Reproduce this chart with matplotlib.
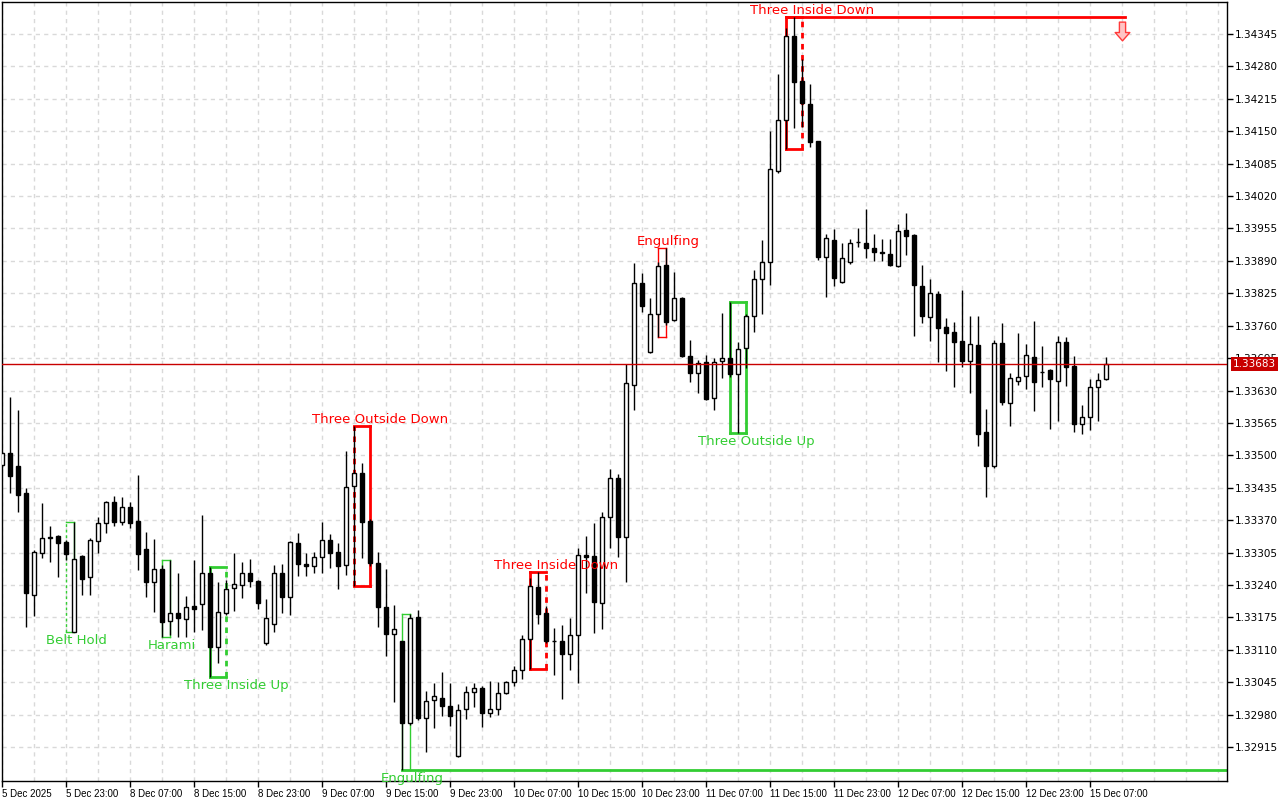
import matplotlib
matplotlib.use('Agg')  # no display
import matplotlib.pyplot as plt
from matplotlib.path import Path
import numpy as np

# hourly candles, 5 Dec 15:00 .. 15 Dec 09:00
opens = [
    1.33481, 1.33505, 1.33479, 1.33424, 1.33220, 1.33304, 1.33334, 1.33338, 1.33326, 1.33146,
    1.33298, 1.33256, 1.33328, 1.33364, 1.33406, 1.33366, 1.33396, 1.33368, 1.33312, 1.33246,
    1.33272, 1.33168, 1.33184, 1.33172, 1.33198, 1.33202, 1.33264, 1.33116, 1.33184, 1.33234,
    1.33240, 1.33264, 1.33248, 1.33124, 1.33162, 1.33264, 1.33216, 1.33324, 1.33282, 1.33278,
    1.33296, 1.33330, 1.33306, 1.33280, 1.33438, 1.33465, 1.33368, 1.33284, 1.33196, 1.33142,
    1.33128, 1.32963, 1.33176, 1.32973, 1.33009, 1.33013, 1.32997, 1.32897, 1.32991, 1.33025,
    1.33033, 1.32983, 1.32991, 1.33023, 1.33045, 1.33069, 1.33132, 1.33236, 1.33184, 1.33128,
    1.33128, 1.33102, 1.33140, 1.33300, 1.33298, 1.33204, 1.33376, 1.33455, 1.33336, 1.33641,
    1.33846, 1.33707, 1.33783, 1.33882, 1.33771, 1.33816, 1.33699, 1.33665, 1.33687, 1.33615,
    1.33689, 1.33695, 1.33663, 1.33715, 1.33779, 1.33854, 1.33888, 1.34070, 1.34173, 1.34341,
    1.34251, 1.34205, 1.34130, 1.33898, 1.33932, 1.33848, 1.33888, 1.33928, 1.33926, 1.33916,
    1.33908, 1.33904, 1.33880, 1.33952, 1.33942, 1.33840, 1.33777, 1.33824, 1.33757, 1.33747,
    1.33729, 1.33689, 1.33721, 1.33547, 1.33479, 1.33725, 1.33605, 1.33649, 1.33659, 1.33697,
    1.33667, 1.33671, 1.33649, 1.33727, 1.33679, 1.33563, 1.33577, 1.33637, 1.33653,
]
highs = [
    1.33507, 1.33617, 1.33591, 1.33434, 1.33310, 1.33404, 1.33358, 1.33340, 1.33330, 1.33366,
    1.33300, 1.33334, 1.33376, 1.33408, 1.33418, 1.33416, 1.33406, 1.33461, 1.33346, 1.33332,
    1.33280, 1.33290, 1.33264, 1.33218, 1.33290, 1.33380, 1.33276, 1.33246, 1.33250, 1.33304,
    1.33286, 1.33292, 1.33250, 1.33212, 1.33280, 1.33282, 1.33328, 1.33344, 1.33304, 1.33306,
    1.33366, 1.33342, 1.33324, 1.33509, 1.33559, 1.33485, 1.33372, 1.33306, 1.33272, 1.33200,
    1.33128, 1.33182, 1.33190, 1.33027, 1.33043, 1.33065, 1.33043, 1.33001, 1.33037, 1.33043,
    1.33037, 1.33047, 1.33045, 1.33047, 1.33077, 1.33140, 1.33254, 1.33266, 1.33198, 1.33154,
    1.33160, 1.33174, 1.33314, 1.33338, 1.33364, 1.33386, 1.33473, 1.33463, 1.33683, 1.33886,
    1.33866, 1.33816, 1.33888, 1.33916, 1.33868, 1.33818, 1.33731, 1.33691, 1.33701, 1.33695,
    1.33785, 1.33808, 1.33727, 1.33783, 1.33872, 1.33932, 1.34150, 1.34265, 1.34357, 1.34379,
    1.34295, 1.34245, 1.34130, 1.33944, 1.33954, 1.33926, 1.33934, 1.33956, 1.33994, 1.33944,
    1.33934, 1.33934, 1.33964, 1.33986, 1.33944, 1.33882, 1.33854, 1.33830, 1.33775, 1.33767,
    1.33832, 1.33779, 1.33779, 1.33593, 1.33731, 1.33765, 1.33665, 1.33745, 1.33723, 1.33769,
    1.33719, 1.33673, 1.33739, 1.33737, 1.33699, 1.33601, 1.33653, 1.33665, 1.33697,
]
lows = [
    1.33477, 1.33424, 1.33386, 1.33156, 1.33178, 1.33294, 1.33286, 1.33256, 1.33290, 1.33146,
    1.33220, 1.33220, 1.33304, 1.33344, 1.33358, 1.33360, 1.33354, 1.33270, 1.33216, 1.33186,
    1.33136, 1.33140, 1.33136, 1.33136, 1.33146, 1.33150, 1.33055, 1.33083, 1.33180, 1.33188,
    1.33214, 1.33236, 1.33192, 1.33120, 1.33146, 1.33184, 1.33180, 1.33258, 1.33258, 1.33264,
    1.33264, 1.33274, 1.33232, 1.33260, 1.33238, 1.33294, 1.33278, 1.33156, 1.33098, 1.33005,
    1.32869, 1.32959, 1.32969, 1.32905, 1.32953, 1.32977, 1.32957, 1.32895, 1.32971, 1.32995,
    1.32955, 1.32975, 1.32979, 1.33021, 1.33037, 1.33051, 1.33071, 1.33162, 1.33124, 1.33059,
    1.33011, 1.33069, 1.33043, 1.33224, 1.33144, 1.33152, 1.33314, 1.33296, 1.33246, 1.33591,
    1.33787, 1.33705, 1.33737, 1.33761, 1.33769, 1.33697, 1.33647, 1.33625, 1.33611, 1.33591,
    1.33655, 1.33657, 1.33545, 1.33675, 1.33747, 1.33783, 1.33842, 1.34066, 1.34114, 1.34156,
    1.34158, 1.34118, 1.33892, 1.33818, 1.33840, 1.33846, 1.33884, 1.33918, 1.33896, 1.33890,
    1.33890, 1.33880, 1.33878, 1.33902, 1.33739, 1.33765, 1.33729, 1.33687, 1.33669, 1.33637,
    1.33677, 1.33625, 1.33519, 1.33416, 1.33475, 1.33601, 1.33559, 1.33641, 1.33633, 1.33589,
    1.33637, 1.33553, 1.33569, 1.33639, 1.33547, 1.33543, 1.33551, 1.33569, 1.33651,
]
closes = [
    1.33505, 1.33459, 1.33420, 1.33224, 1.33306, 1.33334, 1.33336, 1.33324, 1.33302, 1.33292,
    1.33252, 1.33330, 1.33364, 1.33406, 1.33366, 1.33396, 1.33364, 1.33302, 1.33246, 1.33272,
    1.33166, 1.33184, 1.33174, 1.33196, 1.33192, 1.33264, 1.33116, 1.33186, 1.33232, 1.33242,
    1.33264, 1.33248, 1.33204, 1.33174, 1.33264, 1.33216, 1.33326, 1.33282, 1.33278, 1.33296,
    1.33330, 1.33304, 1.33278, 1.33436, 1.33465, 1.33366, 1.33284, 1.33196, 1.33142, 1.33152,
    1.32963, 1.33174, 1.32973, 1.33007, 1.33017, 1.32997, 1.32977, 1.32989, 1.33025, 1.33033,
    1.32983, 1.32991, 1.33023, 1.33045, 1.33069, 1.33132, 1.33238, 1.33182, 1.33128, 1.33128,
    1.33102, 1.33140, 1.33300, 1.33296, 1.33206, 1.33376, 1.33455, 1.33336, 1.33645, 1.33846,
    1.33799, 1.33783, 1.33880, 1.33767, 1.33816, 1.33699, 1.33665, 1.33685, 1.33613, 1.33687,
    1.33695, 1.33663, 1.33713, 1.33779, 1.33854, 1.33888, 1.34074, 1.34173, 1.34341, 1.34249,
    1.34207, 1.34128, 1.33898, 1.33936, 1.33856, 1.33896, 1.33926, 1.33928, 1.33916, 1.33908,
    1.33906, 1.33882, 1.33950, 1.33940, 1.33842, 1.33779, 1.33826, 1.33755, 1.33745, 1.33727,
    1.33689, 1.33723, 1.33543, 1.33479, 1.33725, 1.33607, 1.33655, 1.33657, 1.33701, 1.33647,
    1.33667, 1.33653, 1.33727, 1.33677, 1.33563, 1.33577, 1.33637, 1.33651, 1.33683,
]

time_labels = ['5 Dec 2025', '5 Dec 23:00', '8 Dec 07:00', '8 Dec 15:00', '8 Dec 23:00',
               '9 Dec 07:00', '9 Dec 15:00', '9 Dec 23:00', '10 Dec 07:00', '10 Dec 15:00',
               '10 Dec 23:00', '11 Dec 07:00', '11 Dec 15:00', '11 Dec 23:00', '12 Dec 07:00',
               '12 Dec 15:00', '12 Dec 23:00', '15 Dec 07:00']
price_ticks = [1.32915, 1.32980, 1.33045, 1.33110, 1.33175, 1.33240, 1.33305, 1.33370,
               1.33435, 1.33500, 1.33565, 1.33630, 1.33695, 1.33760, 1.33825, 1.33890,
               1.33955, 1.34020, 1.34085, 1.34150, 1.34215, 1.34280, 1.34345]
last_price = 1.33683

# (name, first bar, last bar, direction, dashed side, extension)
patterns = [
    ('Belt Hold', 8, 9, 'bull', 'left', None),
    ('Harami', 20, 21, 'bull', None, None),
    ('Three Inside Up', 26, 28, 'bull', 'right', None),
    ('Three Outside Down', 44, 46, 'bear', 'left', None),
    ('Engulfing', 50, 51, 'bull', None, 'edge'),
    ('Three Inside Down', 66, 68, 'bear', 'right', None),
    ('Engulfing', 82, 83, 'bear', None, None),
    ('Three Outside Up', 91, 93, 'bull', None, None),
    ('Three Inside Down', 98, 100, 'bear', 'right', 'arrow'),
]

GREEN = '#32cd32'
RED = '#ff0000'
GRID = '#d9d9d9'

o = np.array(opens)
h = np.array(highs)
l = np.array(lows)
c = np.array(closes)
x = np.arange(len(o))
up = c >= o

fig = plt.figure(figsize=(12.8, 8), dpi=100)
ax = fig.add_axes([2/1280, 19/800, 1225/1280, 779/800])
x_right = 153.1
ax.set_xlim(-0.03, x_right)
ax.set_ylim(1.32847, 1.34409)
px = (1.34409 - 1.32847) / 779  # price per pixel

# grid
for gx in range(0, 154, 4):
    ax.axvline(gx, color=GRID, lw=1, ls=(0, (3, 3)), zorder=0)
for p in price_ticks:
    ax.axhline(p, color=GRID, lw=1, ls=(0, (3, 3)), zorder=0)

# pattern boxes
for name, i0, i1, kind, dash, ext in patterns:
    top = h[i0:i1 + 1].max()
    bot = l[i0:i1 + 1].min()
    col = GREEN if kind == 'bull' else RED
    three = (i1 - i0) == 2
    lw = 2 if three else 1
    ax.plot([i0, i1], [top, top], color=col, lw=lw, zorder=1)
    ax.plot([i0, i1], [bot, bot], color=col, lw=lw, zorder=1)
    ax.plot([i0, i0], [bot, top], color=col, lw=lw, zorder=1,
            ls=(0, (2, 2)) if dash == 'left' else '-')
    ax.plot([i1, i1], [bot, top], color=col, lw=lw, zorder=1,
            ls=(0, (2, 2)) if dash == 'right' else '-')
    if ext == 'edge':
        ax.plot([i0, x_right], [bot, bot], color=col, lw=2, zorder=1)
    if ext == 'arrow':
        end = x[-1] + 2
        ax.plot([i0, end + 0.4], [top, top], color=col, lw=2, zorder=1)
        arrow = Path([(-0.33, 1), (0.33, 1), (0.33, -0.11), (0.78, -0.11), (0, -1),
                      (-0.78, -0.11), (-0.33, -0.11), (-0.33, 1)], closed=True)
        ax.plot(end, top - 14 * px, marker=arrow, ms=13.5, mfc='#ffc4c4', mec='#ff3a3a',
                mew=1, zorder=4)
    tx = i1 + (1.25 if three else 0.25)
    if kind == 'bear':
        ax.annotate(name, (tx, top), xytext=(0, 3), textcoords='offset pixels',
                    ha='center', va='baseline', color=col, fontsize=9.5, zorder=5)
    else:
        t = ax.annotate(name, (tx, bot), xytext=(0, -2), textcoords='offset pixels',
                        ha='center', va='top', color=col, fontsize=9.5, zorder=5)
        t.set_clip_on(True)

# candles
ax.vlines(x, l, h, color='black', lw=1, zorder=2)
ax.bar(x[up], c[up] - o[up], bottom=o[up], width=0.56, color='white',
       edgecolor='black', linewidth=1, zorder=3)
ax.bar(x[~up], o[~up] - c[~up], bottom=c[~up], width=0.56, color='black',
       edgecolor='black', linewidth=1, zorder=3)

# bid line
ax.axhline(last_price, color='#c80000', lw=1, zorder=4)

# axes
for s in ax.spines.values():
    s.set_color('black')
    s.set_linewidth(1)
ax.yaxis.tick_right()
ax.set_yticks(price_ticks)
ax.set_yticklabels([f'{p:.5f}' for p in price_ticks])
ax.tick_params(axis='y', direction='out', length=4, width=1, pad=1.5, labelsize=7.5)
ax.set_xticks(x[::8])
ax.set_xticklabels(time_labels)
ax.tick_params(axis='x', direction='out', length=4, width=1, pad=1.5, labelsize=7)
for lab in ax.get_xticklabels():
    lab.set_ha('left')
    lab.set_family('Liberation Sans')

ax.annotate(f'{last_price:.5f}', xy=(1.0, last_price), xycoords=('axes fraction', 'data'),
            xytext=(6, 0), textcoords='offset pixels', ha='left', va='center',
            color='white', fontsize=7.5, annotation_clip=False, zorder=10,
            bbox=dict(boxstyle='square,pad=0.2', fc='#c80000', ec='none'))

plt.savefig('out.png', dpi=100)
